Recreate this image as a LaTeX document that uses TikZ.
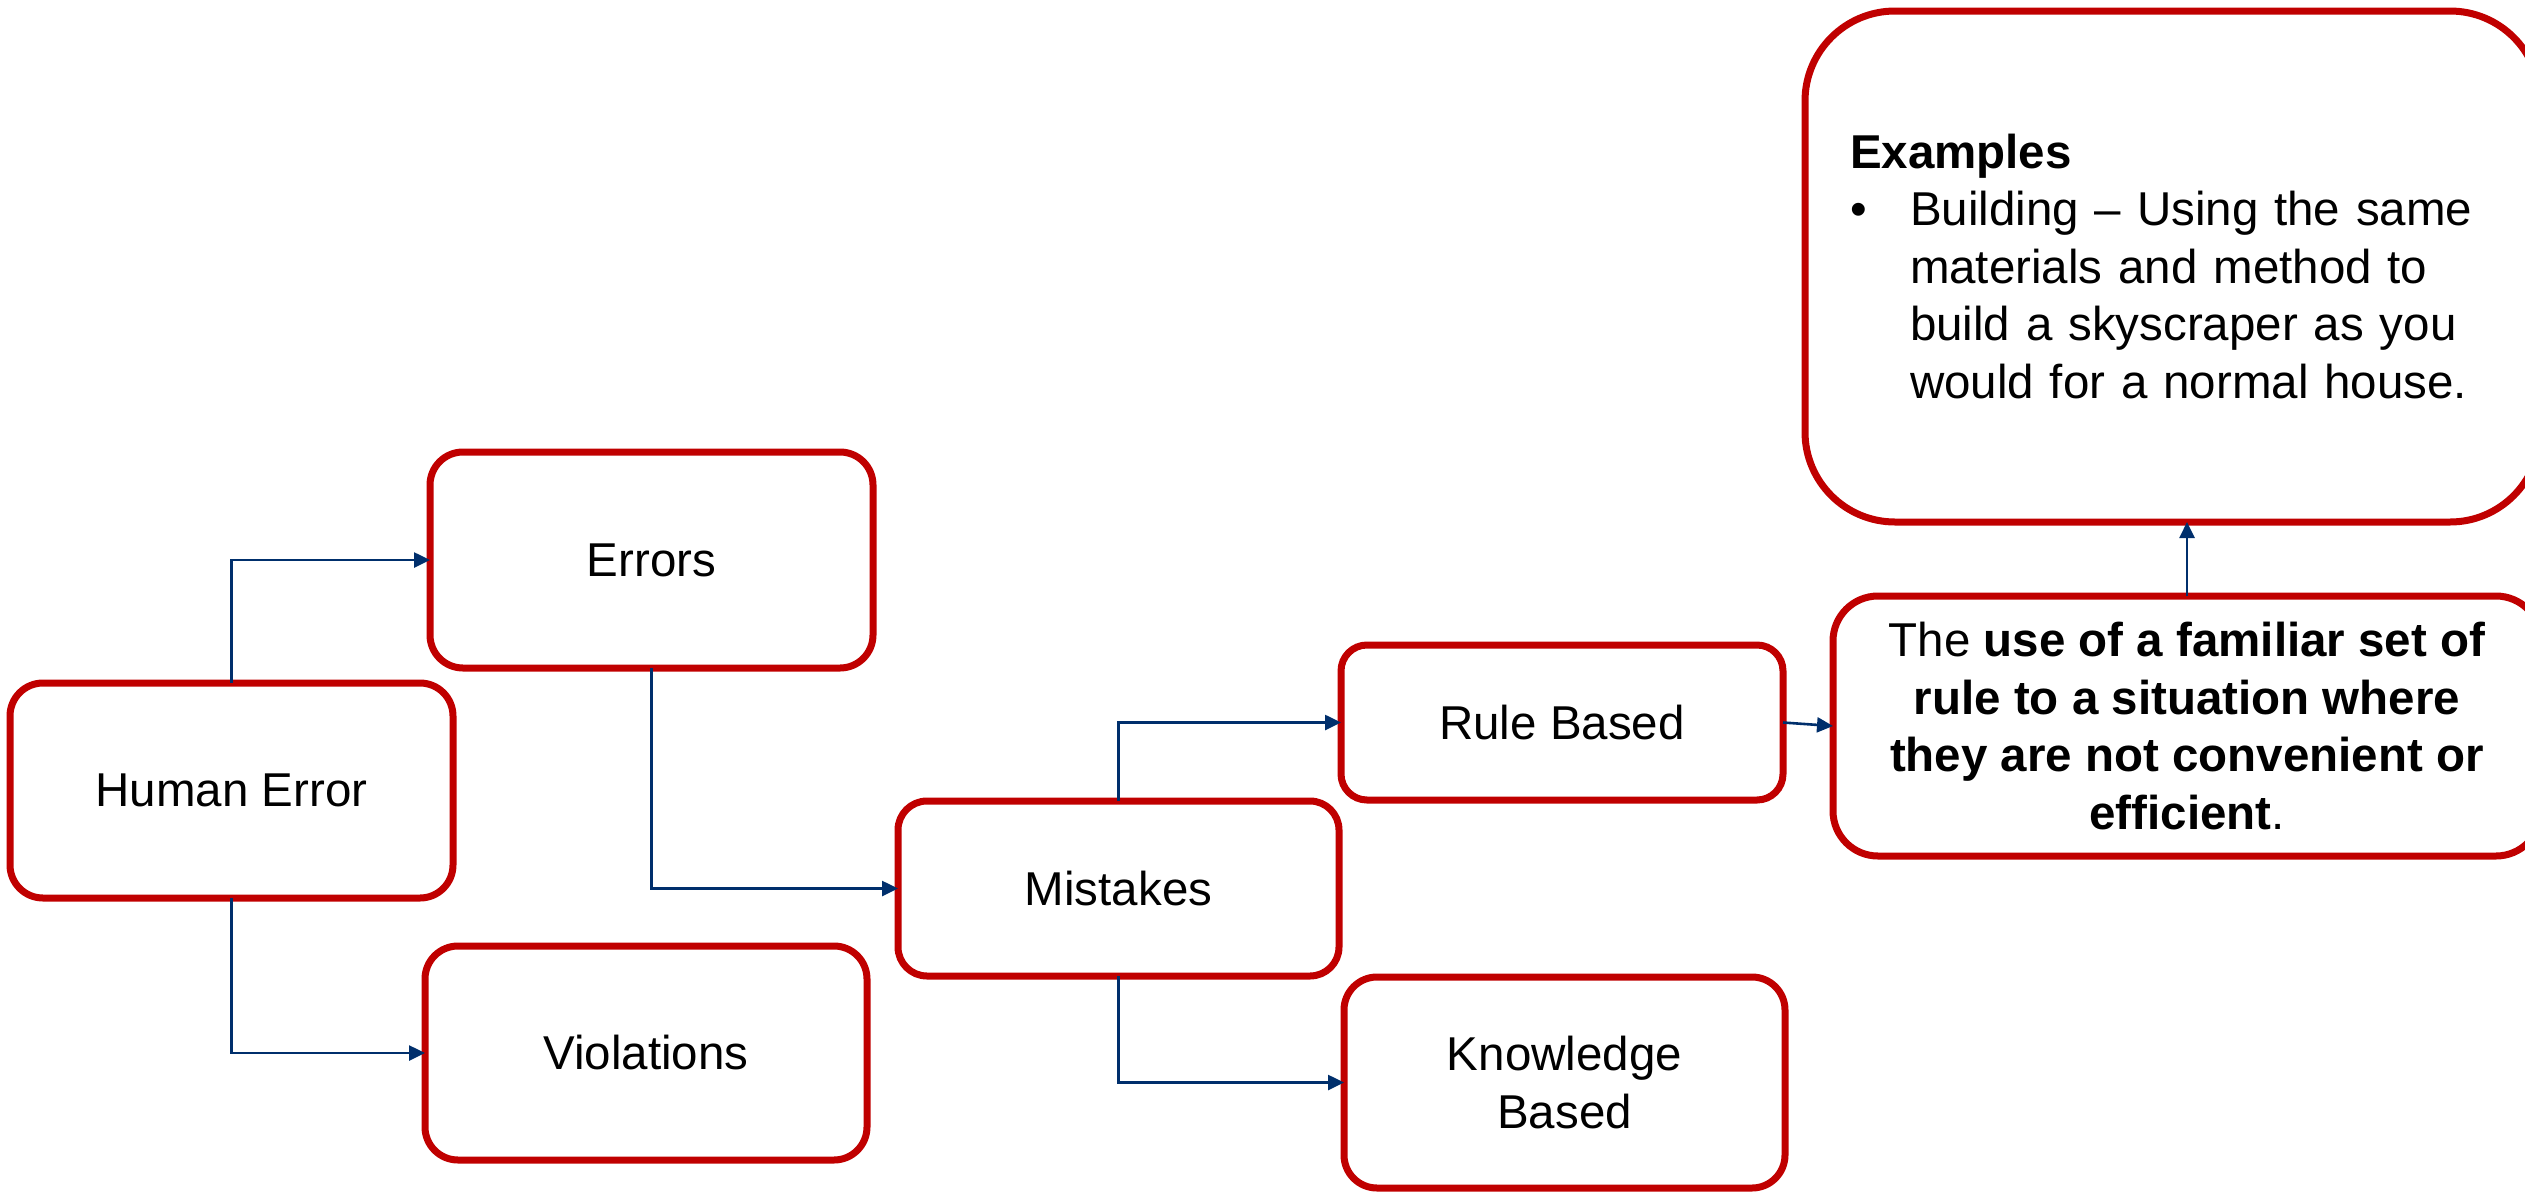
\documentclass[tikz,border=0pt]{standalone}
\usepackage{fontspec}
\setmainfont{Liberation Sans}
\usetikzlibrary{arrows.meta}
\definecolor{boxred}{RGB}{192,0,0}
\definecolor{linkblue}{RGB}{0,47,108}
\begin{document}
\begin{tikzpicture}[x=1pt,y=-1pt,
  box/.style={draw=boxred, line width=7pt, fill=white, inner sep=0pt, outer sep=0pt,
    align=center, text=black, font=\fontsize{47.5}{57.5}\selectfont},
  link/.style={draw=linkblue, line width=2.6pt, -{Triangle[length=16pt,width=15pt]}}]
\clip (0,0) rectangle (2525,1192);
% taxonomy boxes
\node[box, rounded corners=33pt, minimum width=443pt, minimum height=215pt] (he) at (231.5,790.5) {Human Error};
\node[box, rounded corners=33pt, minimum width=443pt, minimum height=216pt] (err) at (651.5,560) {Errors};
\node[box, rounded corners=33pt, minimum width=442pt, minimum height=214pt] (vio) at (646,1053) {Violations};
\node[box, rounded corners=29pt, minimum width=441pt, minimum height=175pt] (mis) at (1118.5,888.5) {Mistakes};
\node[box, rounded corners=26pt, minimum width=442pt, minimum height=155pt] (rule) at (1562,722.5) {Rule Based};
\node[box, rounded corners=33pt, minimum width=441pt, minimum height=211pt] (know) at (1564.5,1082.5) {Knowledge\\Based};
% definition and example boxes
\node[box, rounded corners=45pt, minimum width=708pt, minimum height=260pt] (def) at (2187,726)
  {The \textbf{use of a familiar set of}\\ \textbf{rule to a situation where}\\ \textbf{they are not convenient or}\\ \textbf{efficient}.};
\node[box, rounded corners=90pt, align=left, text width=645pt, inner xsep=45pt, minimum height=511pt] (ex) at (2172.5,266.5)
  {\textbf{Examples}\\
   \makebox[60pt][l]{\textbullet}Building – Using the same\\
   \hspace*{60pt}materials and method to\\
   \hspace*{60pt}build a skyscraper as you\\
   \hspace*{60pt}would for a normal house.};
% connectors
\draw[link] (he.north) |- (err.west);
\draw[link] (he.south) |- (vio.west);
\draw[link] (err.south) |- (mis.west);
\draw[link] (mis.north) |- (rule.west);
\draw[link] (mis.south) |- (know.west);
\draw[link] (rule.east) -- (def.west);
\draw[link] (def.north) -- (def.north |- ex.south);
\end{tikzpicture}
\end{document}
